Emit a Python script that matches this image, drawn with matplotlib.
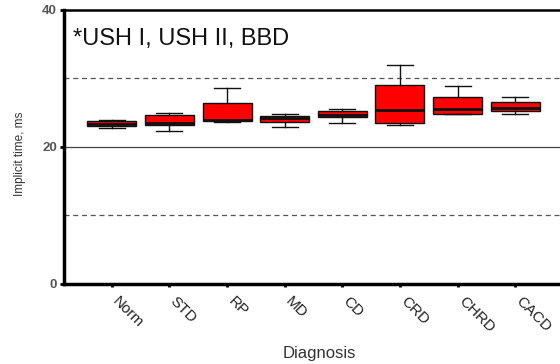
import matplotlib
matplotlib.use("Agg")
import matplotlib.pyplot as plt
import matplotlib.transforms as mtransforms

plt.rcParams['font.family'] = ['Liberation Sans', 'DejaVu Sans']

# datos (ms)
diagnosticos = ['Norm', 'STD', 'RP', 'MD', 'CD', 'CRD', 'CHRD', 'CACD']
bigote_inf = [22.8, 22.3, 23.55, 22.9, 23.5, 23.2, 24.8, 24.8]
q1 = [23.1, 23.2, 23.7, 23.6, 24.3, 23.5, 24.8, 25.2]
mediana = [23.4, 23.5, 23.9, 24.2, 24.7, 25.4, 25.5, 25.6]
q3 = [23.7, 24.6, 26.4, 24.5, 25.2, 29.1, 27.3, 26.6]
bigote_sup = [23.9, 25.0, 28.6, 24.8, 25.5, 32.0, 28.9, 27.3]

y_ticks = [0, 20, 40]

fig = plt.figure(figsize=(5.6, 3.64), dpi=100)
ax = fig.add_axes([64/560, 1 - 283.5/364, (563 - 64)/560, 273.5/364])

# lineas de referencia
ax.axhline(20, color='#444444', lw=0.9, zorder=1)
for v in (10, 30):
    ax.axhline(v, color='#555555', lw=0.9, ls=(0, (4, 3)), zorder=1)

stats = []
for i, nombre in enumerate(diagnosticos):
    stats.append({'label': nombre, 'whislo': bigote_inf[i], 'q1': q1[i],
                  'med': mediana[i], 'q3': q3[i], 'whishi': bigote_sup[i]})

ax.bxp(stats, positions=range(1, len(diagnosticos) + 1), widths=0.85,
       showfliers=False, patch_artist=True,
       boxprops=dict(facecolor='#ff0000', edgecolor='#111111', linewidth=1.0),
       medianprops=dict(color='#111111', linewidth=2.0),
       whiskerprops=dict(color='#111111', linewidth=1.0),
       capprops=dict(color='#111111', linewidth=1.0),
       capwidths=0.45, zorder=3)

ax.set_xlim(0.17, 8.83)
ax.set_ylim(0, 40)
ax.tick_params(axis='y', length=3, width=2, direction='out', pad=2)
ax.tick_params(axis='x', length=2, width=2, direction='out', pad=6)
ax.set_yticks(y_ticks)
ax.set_yticklabels([str(t) for t in y_ticks], fontsize=9.5, fontweight='bold', color='#555555')
ax.set_xticks(range(1, len(diagnosticos) + 1))
ax.set_xticklabels(diagnosticos, rotation=-45, ha='left', va='top',
                   rotation_mode='anchor', fontsize=11, color='#222222')
# las etiquetas empiezan un poco a la derecha de cada marca
desplazar = mtransforms.ScaledTranslation(8/100, 0, fig.dpi_scale_trans)
for etiqueta in ax.get_xticklabels():
    etiqueta.set_transform(etiqueta.get_transform() + desplazar)

ax.spines['left'].set_linewidth(2.5)
ax.spines['bottom'].set_linewidth(2.5)
ax.spines['top'].set_linewidth(1.8)
ax.spines['right'].set_linewidth(1.8)

ax.set_ylabel('Implicit time, ms', fontsize=8.5, color='#333333')
ax.yaxis.set_label_coords(-38/499, 0.475)
ax.set_xlabel('Diagnosis', fontsize=12, color='#333333')
ax.xaxis.set_label_coords(0.511, -0.228)

ax.text(0.018, 0.935, '*USH I, USH II, BBD', transform=ax.transAxes,
        fontsize=17, color='#111111', va='top', ha='left')

fig.savefig('out.png', dpi=100)
